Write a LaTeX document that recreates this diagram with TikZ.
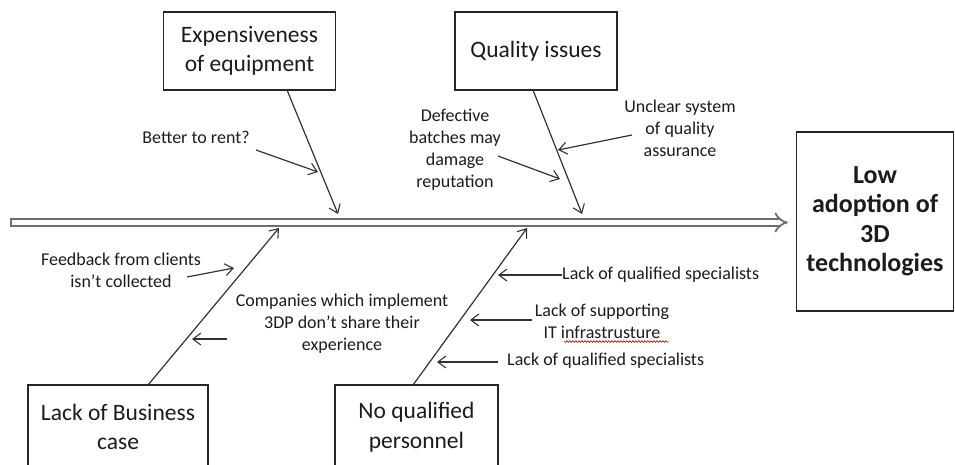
\documentclass[tikz,border=0pt]{standalone}
\usepackage{fontspec}
\setmainfont{Carlito}
\usetikzlibrary{arrows.meta,decorations.pathmorphing}
\definecolor{ink}{HTML}{1C1C1C}
\definecolor{boneline}{HTML}{333333}
\definecolor{spinegray}{HTML}{6E6E6E}
\begin{document}
\begin{tikzpicture}[x=1pt,y=-1pt,
  every node/.style={text=ink, inner sep=0pt},
  causebox/.style={draw=black!85, line width=1.2pt, fill=white, align=center,
    font=\fontsize{23.5}{29.5}\selectfont},
  effectbox/.style={draw=black!85, line width=1.2pt, fill=white, align=center,
    font=\fontsize{26}{29.5}\selectfont\bfseries},
  note/.style={align=center, font=\fontsize{18}{22}\selectfont},
  bone/.style={draw=boneline, line width=1.2pt,
    -{Straight Barb[length=8pt,width=12pt,line width=1.1pt]}},
  twig/.style={bone},
  spine/.style={draw=spinegray, line width=1.8pt, double=white, double distance=5pt,
    -{Implies[length=10pt,width=18pt]}},
]
\useasboundingbox (0,0) rectangle (955,464);

% head of the fish
\node[effectbox, minimum width=157pt, minimum height=179pt] (result) at (875,221.5)
  {Low\\adoption of\\3D\\technologies};

% main categories
\node[causebox, minimum width=172pt, minimum height=78pt] (cost) at (249.5,51)
  {Expensiveness\\of equipment};
\node[causebox, minimum width=162pt, minimum height=78pt] (quality) at (536,51)
  {Quality issues};
\node[causebox, minimum width=180pt, minimum height=84pt] (business) at (118,427)
  {Lack of Business\\case};
\node[causebox, minimum width=163pt, minimum height=84pt] (staff) at (416.5,427)
  {No qualified\\personnel};

% spine
\coordinate (tail) at (10,222.5);
\draw[spine, shorten >=8pt] (tail) -- (result.west |- tail);
\draw[spinegray, line width=1.8pt] ([xshift=0.9pt]tail) ++(0,-4.3) -- ++(0,8.6);

% bones
\coordinate (costfoot) at (287,90);
\coordinate (costtip) at (338,214);
\coordinate (qualfoot) at (533,90);
\coordinate (qualtip) at (582,214);
\coordinate (bizfoot) at (148,385);
\coordinate (biztip) at (279,228);
\coordinate (stafffoot) at (413,385);
\coordinate (stafftip) at (527,228);
\draw[bone] (costfoot) -- (costtip);
\draw[bone] (qualfoot) -- (qualtip);
\draw[bone] (bizfoot) -- (biztip);
\draw[bone] (stafffoot) -- (stafftip);

% sub-causes
\node[note] (rent) at (196,137) {Better to rent?};
\coordinate (rentA) at (256,150); \coordinate (rentB) at (318,172);
\draw[twig] (rentA) -- (rentB);

\node[note] (defect) at (455,150) {Defective\\batches may\\damage\\reputation};
\coordinate (defA) at (498,156); \coordinate (defB) at (560,179);
\draw[twig] (defA) -- (defB);

\node[note] (unclear) at (680,128) {Unclear system\\of quality\\assurance};
\coordinate (uncA) at (632,135); \coordinate (uncB) at (558,150);
\draw[twig] (uncA) -- (uncB);

\node[note] (feedback) at (121,270) {Feedback from clients\\isn’t collected};
\coordinate (fbA) at (187,277); \coordinate (fbB) at (234,268);
\draw[twig] (fbA) -- (fbB);

\node[note] (share) at (342,324) {Companies which implement\\3DP don’t share their\\experience};
\coordinate (shA) at (227,339); \coordinate (shB) at (192,339);
\draw[twig] (shA) -- (shB);

\node[note, anchor=west] (spec1) at (562,275) {Lack of qualified specialists};
\coordinate (sp1B) at (498,275);
\draw[twig] (spec1.west) -- (sp1B);

\node[note] (infra) at (602,321) {Lack of supporting\\IT infrastrusture};
\coordinate (infA) at (532,320); \coordinate (infB) at (470,320);
\draw[twig] (infA) -- (infB);
\draw[red!80!black, line width=0.6pt, decorate,
  decoration={snake, amplitude=0.9pt, segment length=3pt}]
  (infra.south east) ++(-1,3) -- ++(-104,0);

\node[note, anchor=west] (spec2) at (507,361) {Lack of qualified specialists};
\coordinate (sp2A) at (498,362); \coordinate (sp2B) at (437,362);
\draw[twig] (sp2A) -- (sp2B);
\end{tikzpicture}
\end{document}
